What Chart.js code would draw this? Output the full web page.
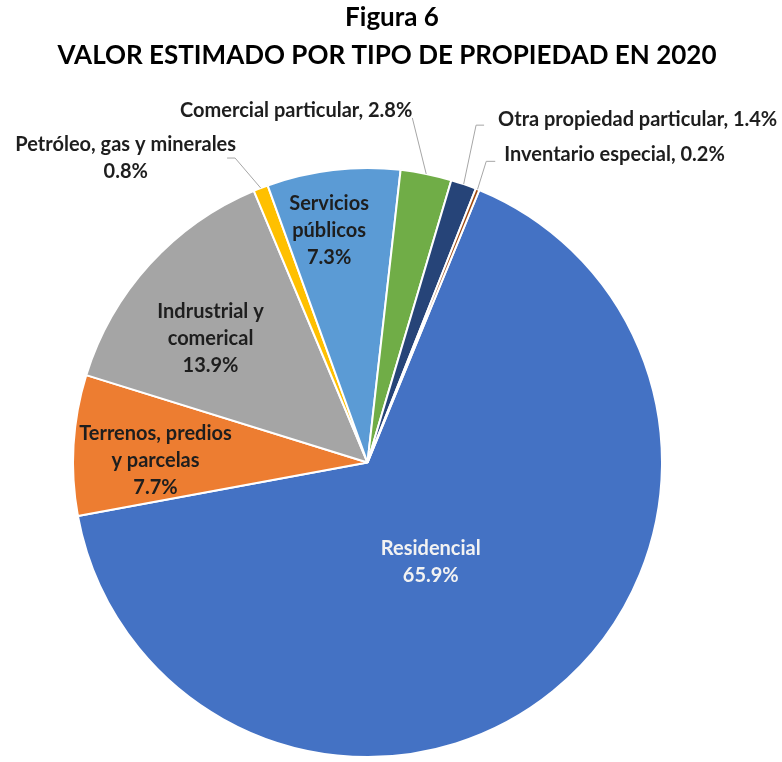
<!DOCTYPE html>
<html>
<head>
<meta charset="utf-8">
<script src="https://cdn.jsdelivr.net/npm/chart.js@4.4.0/dist/chart.umd.min.js"></script>
<style>
  html, body { margin: 0; padding: 0; background: #fff; }
</style>
</head>
<body>
<canvas id="pie" width="782" height="762"></canvas>
<script>
const titleLines = ['Figura 6', 'VALOR ESTIMADO POR TIPO DE PROPIEDAD EN 2020'];
const categories = [
  'Residencial',
  'Terrenos, predios y parcelas',
  'Indrustrial y comerical',
  'Petróleo, gas y minerales',
  'Servicios públicos',
  'Comercial particular',
  'Otra propiedad particular',
  'Inventario especial'
];
const shares = [65.9, 7.7, 13.9, 0.8, 7.3, 2.8, 1.4, 0.2];
const sliceColors = ['#4472C4', '#ED7D31', '#A5A5A5', '#FFC000', '#5B9BD5', '#70AD47', '#264478', '#9E480E'];

// label placement: inside ones sit at a fraction of the radius, outside ones are offset from the slice edge
const labelSpots = [
  { inside: true, r: 0.40, turn: 6.6, words: [1], color: '#f2f2f2' },
  { inside: true, r: 0.72, turn: -2.9, words: [2, 2] },
  { inside: true, r: 0.68, turn: -3.9, words: [2, 1] },
  { dx: -135, dy: -30, words: [4], anchor: 'right', gapX: -9, gapY: 0, elbow: 8 },
  { inside: true, r: 0.80, turn: -2.7, words: [1, 1] },
  { dx: -130, dy: -63, inline: true, anchor: 'right', gapX: 0, gapY: 7, elbow: 0 },
  { dx: 174, dy: -65, inline: true, anchor: 'left', gapX: -14, gapY: 6, elbow: 8 },
  { dx: 137, dy: -35, inline: true, anchor: 'left', gapX: -9, gapY: 7, elbow: 9 }
];

const labelFont = 'bold 20px Lato';
const lineGap = 27;

function pct(v) { return v.toFixed(1) + '%'; }

function labelLines(i) {
  const spot = labelSpots[i];
  if (spot.inline) return [categories[i] + ', ' + pct(shares[i])];
  const words = categories[i].split(' ');
  const out = [];
  let k = 0;
  spot.words.forEach(n => { out.push(words.slice(k, k + n).join(' ')); k += n; });
  out.push(pct(shares[i]));
  return out;
}

const titlePlugin = {
  id: 'titleText',
  afterDraw(chart) {
    const ctx = chart.ctx;
    ctx.save();
    ctx.fillStyle = '#000';
    ctx.font = 'bold 26px Lato';
    ctx.textAlign = 'center';
    ctx.textBaseline = 'middle';
    ctx.fillText(titleLines[0], 392, 18);
    ctx.fillText(titleLines[1], 387, 56);
    ctx.restore();
  }
};

const labelPlugin = {
  id: 'sliceLabels',
  afterDatasetsDraw(chart) {
    const ctx = chart.ctx;
    const meta = chart.getDatasetMeta(0);
    ctx.save();
    ctx.font = labelFont;
    ctx.textAlign = 'center';
    ctx.textBaseline = 'middle';
    meta.data.forEach((arc, i) => {
      const p = arc.getProps(['x', 'y', 'startAngle', 'endAngle', 'outerRadius'], true);
      const mid = (p.startAngle + p.endAngle) / 2;
      const spot = labelSpots[i];
      const lines = labelLines(i);
      let cx, cy;
      if (spot.inside) {
        const a = mid + spot.turn * Math.PI / 180;
        cx = p.x + Math.cos(a) * p.outerRadius * spot.r;
        cy = p.y + Math.sin(a) * p.outerRadius * spot.r;
      } else {
        const ex = p.x + Math.cos(mid) * p.outerRadius;
        const ey = p.y + Math.sin(mid) * p.outerRadius;
        cx = ex + spot.dx;
        cy = ey + spot.dy;
        const w = Math.max(...lines.map(l => ctx.measureText(l).width));
        let endX, elbowX;
        if (spot.anchor === 'right') {
          endX = cx + w / 2 + spot.gapX;
          elbowX = endX + spot.elbow;
        } else {
          endX = cx - w / 2 + spot.gapX;
          elbowX = endX - spot.elbow;
        }
        const endY = cy + spot.gapY;
        ctx.strokeStyle = '#a6a6a6';
        ctx.lineWidth = 1;
        ctx.beginPath();
        ctx.moveTo(endX, endY);
        ctx.lineTo(elbowX, endY);
        ctx.lineTo(ex, ey);
        ctx.stroke();
      }
      ctx.fillStyle = spot.color || '#1e1e1e';
      const top = cy - (lines.length - 1) * lineGap / 2;
      lines.forEach((l, j) => ctx.fillText(l, cx, top + j * lineGap));
    });
    ctx.restore();
  }
};

new Chart(document.getElementById('pie'), {
  type: 'pie',
  data: {
    labels: categories,
    datasets: [{
      data: shares,
      backgroundColor: sliceColors,
      borderColor: '#ffffff',
      borderWidth: 2
    }]
  },
  options: {
    responsive: false,
    animation: false,
    rotation: 22.3,
    layout: { padding: { left: 72, right: 119, top: 166, bottom: 3 } },
    plugins: {
      legend: { display: false },
      tooltip: { enabled: false },
      title: { display: false }
    }
  },
  plugins: [labelPlugin, titlePlugin]
});
</script>
</body>
</html>
